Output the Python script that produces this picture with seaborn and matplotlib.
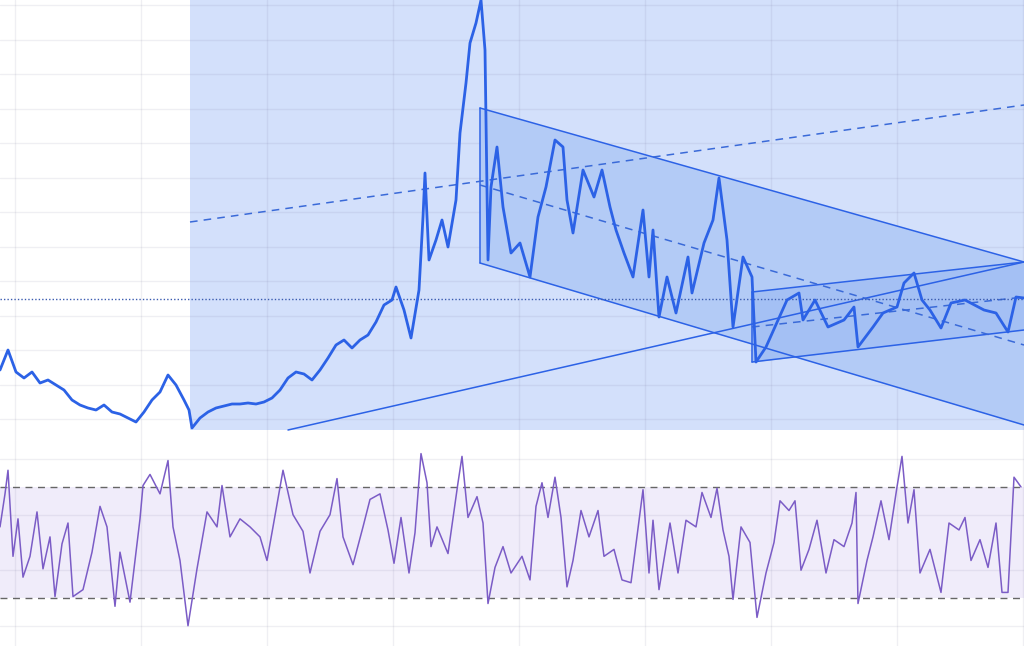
import matplotlib
matplotlib.use("Agg")
import matplotlib.pyplot as plt
import seaborn as sns
import numpy as np
import pandas as pd

# price series (day, price)
price_day = [0, 8, 16, 24, 32, 40, 48, 56, 64, 72, 80, 88, 96, 104, 112, 120, 128, 136, 144, 152,
             160, 168, 176, 184, 189, 192, 200, 208, 216, 224, 232, 240, 248, 256, 264, 272, 280, 288,
             296, 304, 312, 320, 328, 336, 344, 352, 360, 368, 376, 384, 392, 396, 404, 411, 419, 423,
             425, 429, 436, 442, 448, 456, 460, 466, 470, 476, 481, 485, 488, 491, 497, 503, 511, 520,
             530, 538, 546, 555, 563, 567, 573, 583, 594, 602, 610, 616, 624, 633, 643, 649, 653, 659,
             667, 676, 688, 692, 704, 713, 719, 727, 733, 743, 752, 756, 766, 778, 787, 799, 803, 815,
             828, 844, 854, 858, 873, 883, 897, 904, 914, 922, 930, 941, 951, 965, 984, 996, 1008, 1016,
             1024]
price = [70, 90, 68, 62, 68, 57, 60, 55, 50, 40, 35, 32, 30, 35, 28, 26, 22, 18, 28, 40,
         48, 65, 55, 40, 30, 12, 22, 28, 32, 34, 36, 36, 37, 36, 38, 42, 50, 62,
         68, 66, 60, 70, 82, 95, 100, 92, 100, 105, 118, 135, 140, 153, 130, 102, 150, 223,
         267, 180, 200, 220, 193, 240, 307, 357, 397, 417, 440, 390, 180, 253, 293, 233, 187, 197,
         163, 223, 253, 300, 293, 240, 207, 270, 243, 270, 233, 210, 187, 163, 230, 163, 210, 123,
         163, 127, 183, 147, 197, 220, 262, 200, 113, 183, 163, 78, 93, 120, 140, 147, 120, 140,
         113, 120, 133, 93, 113, 127, 133, 157, 167, 140, 130, 112, 137, 140, 130, 127, 108, 143,
         142]

# RSI series (day, value)
rsi_day = [0, 5, 8, 13, 18, 23, 30, 37, 43, 50, 55, 62, 68, 73, 83, 92, 100, 107, 115, 120,
           130, 140, 143, 150, 160, 168, 173, 180, 188, 197, 207, 217, 222, 230, 240, 250, 260, 267,
           273, 283, 293, 303, 310, 320, 330, 337, 343, 353, 363, 370, 380, 388, 394, 401, 409, 415,
           421, 427, 431, 437, 448, 458, 462, 468, 477, 483, 488, 495, 503, 511, 522, 530, 536, 542,
           548, 555, 561, 567, 573, 581, 589, 598, 604, 614, 622, 631, 639, 643, 649, 653, 659, 670,
           678, 686, 696, 702, 711, 717, 723, 729, 733, 741, 750, 757, 766, 774, 780, 789, 795, 801,
           809, 817, 826, 834, 844, 852, 856, 858, 867, 873, 881, 889, 897, 902, 908, 914, 920, 930,
           941, 949, 959, 965, 971, 980, 988, 996, 1002, 1008, 1014, 1021]
rsi = [55.6, 67.5, 76, 45, 58.5, 37.5, 45, 61, 40.5, 52, 30.5, 49.5, 57, 30.5, 33, 46.5, 63, 55.6, 27, 46.5,
       28.5, 58.5, 70.5, 74.5, 67.5, 79.5, 55.6, 43.5, 20, 40.5, 61, 55.6, 70.5, 52, 58.5, 55.6, 52, 43.5,
       55.6, 76, 60, 54, 39, 54, 60, 73, 52, 42, 55.6, 65.5, 67.5, 54.5, 42.5, 59, 39, 53.5,
       82, 71.5, 48.5, 55.6, 46, 71.5, 81, 59, 66.5, 57, 28, 41, 48.5, 39, 45, 36.5, 63, 71.5,
       59, 73.5, 59, 34, 43.5, 61.5, 52, 61.5, 45, 47.5, 36.5, 35.5, 58, 69, 39, 58, 33, 57,
       39, 58, 55.6, 68, 59, 69.5, 54.5, 45, 29.5, 55.6, 50, 23, 39, 50, 65, 61.5, 65, 40,
       47.5, 58, 39, 51, 48.5, 57, 68, 28, 43.5, 52, 65, 51, 70, 81, 57, 69, 39, 47.5,
       32, 57, 54.5, 59, 43.5, 51, 41, 57, 32, 32, 73.5, 70]

# drawn trend lines: (day0, price0, day1, price1)
long_lower = (288, 10, 1024, 178)
long_mid = (190, 218, 1024, 335)
down_upper = (480, 332, 1024, 178)
down_mid = (480, 255, 1024, 95)
down_lower = (480, 177, 1024, 15)
up_upper = (752, 148, 1024, 178)
up_mid = (752, 113, 1024, 143)
up_lower = (752, 78, 1024, 110)
shade_span = (190, 1024, 10, 440)
last_close = 141

LINE = "#2c62e6"
PURPLE = "#7b5cc6"

sns.set_theme(style="white")
fig = plt.figure(figsize=(10.24, 6.46), dpi=100)
ax = fig.add_axes([0, 206 / 646, 1, 440 / 646])
ax2 = fig.add_axes([0, 0, 1, 206 / 646])

for a in (ax, ax2):
    a.set_xlim(0, 1024)
    for s in a.spines.values():
        s.set_visible(False)
    a.set_xticks(np.arange(15, 1024, 126))
    a.tick_params(length=0, labelbottom=False, labelleft=False)
    a.grid(True, color="#6a6a90", alpha=0.1, lw=1)
    a.set_axisbelow("line")

ax.set_ylim(0, 440)
ax.set_yticks(np.arange(21, 440, 34.5))
ax2.set_ylim(12.7, 86.9)
ax2.set_yticks([20, 40, 60, 80])

# big shaded region
x0, x1, y0, y1 = shade_span
ax.fill_between([x0, x1], y0, y1, color="#d3e0fb", zorder=1, lw=0)


def seg(t, **kw):
    ax.plot([t[0], t[2]], [t[1], t[3]], **kw)


def band(up, lo, color):
    ax.fill_between([up[0], up[2]], [lo[1], lo[3]], [up[1], up[3]], color=color, lw=0, zorder=2)


band(down_upper, down_lower, "#b3cbf6")
band(up_upper, up_lower, "#a4c0f4")
for t in (long_lower, down_upper, down_lower, up_upper, up_lower):
    seg(t, color=LINE, lw=1.1, zorder=3)
ax.plot([down_upper[0], down_lower[0]], [down_upper[1], down_lower[1]], color=LINE, lw=1.1, zorder=3)
ax.plot([up_upper[0], up_lower[0]], [up_upper[1], up_lower[1]], color=LINE, lw=1.1, zorder=3)
for t in (long_mid, down_mid, up_mid):
    seg(t, color="#3a6ad8", lw=1.1, ls=(0, (5, 4)), zorder=3)
ax.axhline(last_close, color="#3a5bb0", lw=1, ls=(0, (1, 1.5)), zorder=3)

df_p = pd.DataFrame({"day": price_day, "price": price})
sns.lineplot(data=df_p, x="day", y="price", ax=ax, color=LINE, lw=2, zorder=4)

# RSI
ax2.axhspan(30, 70, color="#f0ecfa", lw=0, zorder=1)
ax2.axhline(70, color="#666", lw=1, ls=(0, (5, 4)), zorder=2)
ax2.axhline(30, color="#666", lw=1, ls=(0, (5, 4)), zorder=2)
df_r = pd.DataFrame({"day": rsi_day, "rsi": rsi})
sns.lineplot(data=df_r, x="day", y="rsi", ax=ax2, color=PURPLE, lw=1.1, zorder=3)
for a in (ax, ax2):
    a.set_xlabel("")
    a.set_ylabel("")

fig.savefig("out.png", dpi=100)
